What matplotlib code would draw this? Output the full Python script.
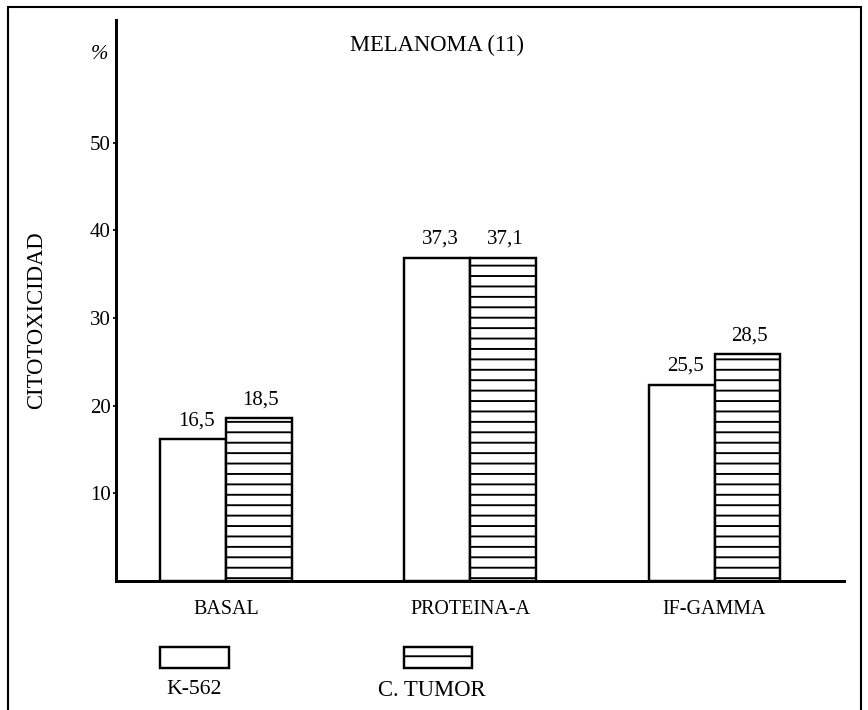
import matplotlib
matplotlib.use("Agg")
import numpy as np
from matplotlib import pyplot as plt
from matplotlib.patches import Rectangle

# data
groups = ['BASAL', 'PROTEINA-A', 'IF-GAMMA']
k562 = [16.2, 36.9, 22.4]          # drawn bar heights
tumor = [18.6, 36.9, 25.9]
k562_lab = ['16,5', '37,3', '25,5']  # printed values
tumor_lab = ['18,5', '37,1', '28,5']
yticks = [10, 20, 30, 40, 50]

DPI = 125  # hatch spacing is per inch, 125 gives ~10px lines like the scan
W, H = 868, 710
plt.rcParams['font.family'] = ['Liberation Serif', 'DejaVu Serif']
plt.rcParams['hatch.linewidth'] = 1.1
plt.rcParams['hatch.color'] = 'black'

fig = plt.figure(figsize=(W / DPI, H / DPI), dpi=DPI)
ax = fig.add_axes([116 / W, 129 / H, 728 / W, 561 / H])

x = np.arange(len(groups))
bw = 0.27
ax.bar(x - bw / 2, k562, bw, color='white', edgecolor='black', linewidth=1.4)
ax.bar(x + bw / 2, tumor, bw, color='white', edgecolor='black', linewidth=1.4,
       hatch='--')

for xi, h, t in zip(x - bw / 2, k562, k562_lab):
    ax.annotate(t, (xi, h), xytext=(2, 5), textcoords='offset points',
                ha='center', va='bottom', fontsize=12)
for xi, h, t in zip(x + bw / 2, tumor, tumor_lab):
    ax.annotate(t, (xi, h), xytext=(1, 5), textcoords='offset points',
                ha='center', va='bottom', fontsize=12)

ax.set_xlim(-0.45, 2.53)
ax.set_ylim(0, 64)
ax.set_yticks(yticks)
ax.set_yticklabels([str(v) for v in yticks], fontsize=12)
ax.set_xticks(x)
ax.set_xticklabels(groups, fontsize=11.5)
ax.tick_params(axis='x', length=0, pad=11)
ax.tick_params(axis='y', length=2, width=1, pad=1, direction='out')

for s in ['top', 'right']:
    ax.spines[s].set_visible(False)
for s in ['left', 'bottom']:
    ax.spines[s].set_linewidth(1.7)

ax.set_ylabel('CITOTOXICIDAD', fontsize=13)
ax.yaxis.set_label_coords(-0.0948, 0.465)
ax.text(-0.023, 0.939, '%', transform=ax.transAxes, fontsize=12,
        style='italic', ha='center', va='center')
ax.text(0.441, 0.955, 'MELANOMA (11)', transform=ax.transAxes, fontsize=13,
        ha='center', va='center')

# legend drawn below the axis, boxes with labels underneath
def px(xp, yp):
    return xp / W, 1 - yp / H

x0, y0 = px(160, 668)
fig.patches.append(Rectangle((x0, y0), 69 / W, 21 / H, transform=fig.transFigure,
                             facecolor='white', edgecolor='black', linewidth=1.4))
x0, y0 = px(404, 668)
fig.patches.append(Rectangle((x0, y0), 68 / W, 21 / H, transform=fig.transFigure,
                             facecolor='white', edgecolor='black', linewidth=1.4,
                             hatch='-'))
fig.text(*px(194, 690), 'K-562', fontsize=12.5, ha='center', va='center')
fig.text(*px(432, 690), 'C. TUMOR', fontsize=13, ha='center', va='center')

# page frame of the scan
x0, y0 = px(8, 716)
fig.patches.append(Rectangle((x0, y0), 853 / W, 709 / H, transform=fig.transFigure,
                             facecolor='none', edgecolor='black', linewidth=1.2))

fig.savefig('out.png', dpi=DPI)
